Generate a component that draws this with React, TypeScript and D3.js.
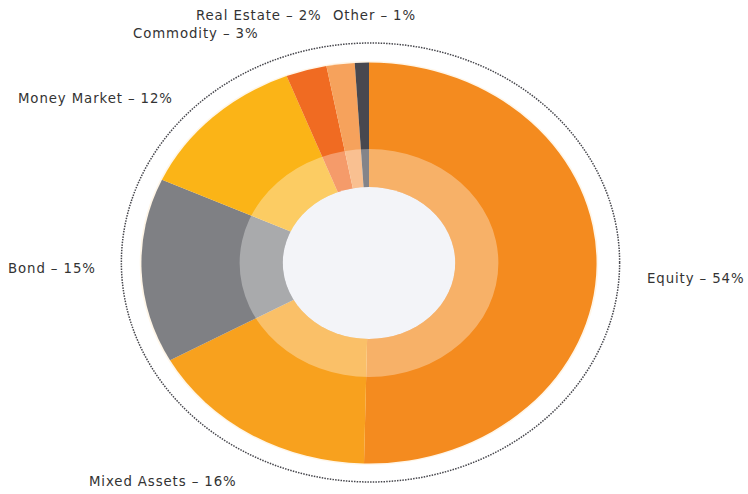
import React from "react";
import * as d3 from "d3";

const categories = ["Equity", "Mixed Assets", "Bond", "Money Market", "Commodity", "Real Estate", "Other"];
// shares as drawn in the picture (angle of each slice)
const sliceShares = [50.4, 16.6, 14.9, 12.3, 2.9, 2.0, 1.0];
// percentages written in the labels
const labelPercents = [54, 16, 15, 12, 3, 2, 1];
const colors = ["#f48b1f", "#f8a11e", "#7f8084", "#fbb417", "#f06b22", "#f6a25c", "#48484f"];

const W = 748;
const H = 494;
const CX = 369;
const CY = 263;
const SX = 1.135; // horizontal stretch of the picture
const R_OUT = 200.5;
const R_RING = 114;
const R_IN = 76;
const R_DOT = 219.5;

// label layout: [x, y, anchor]
const labelLayout: Record<string, [number, number, string]> = {
  Equity: [647, 283, "start"],
  "Mixed Assets": [89, 486, "start"],
  Bond: [8, 273, "start"],
  "Money Market": [18, 103, "start"],
  Commodity: [133, 38, "start"],
  "Real Estate": [196, 20, "start"],
  Other: [333, 20, "start"],
};

export default function App() {
  const data = categories.map((c, i) => ({ name: c, value: sliceShares[i], pct: labelPercents[i], color: colors[i] }));
  const pie = d3.pie<any>().value((d) => d.value).sort(null).startAngle(0).endAngle(2 * Math.PI);
  const arcs = pie(data);
  const arc = d3.arc<any>().innerRadius(0).outerRadius(R_OUT);
  const ring = d3.arc<any>().innerRadius(R_IN).outerRadius(R_RING).startAngle(0).endAngle(2 * Math.PI);

  return (
    <svg width={W} height={H} style={{ position: "absolute", left: 0, top: 0, background: "#fff" }}>
      <ellipse cx={CX + 1.5} cy={CY - 0.5} rx={R_DOT * SX} ry={R_DOT} fill="none" stroke="#46464c" strokeWidth={1.5} strokeDasharray="1.5 1.2" />
      <g transform={`translate(${CX},${CY}) scale(${SX},1)`}>
        <circle r={R_OUT + 1.5} fill="#fff6e8" />
        {arcs.map((a, i) => (
          <path key={i} d={arc(a) as string} fill={a.data.color} />
        ))}
        <path d={ring({}) as string} fill="#ffffff" fillOpacity={0.33} />
        <circle r={R_IN} fill="#f3f4f8" />
      </g>
      {data.map((d) => {
        const [x, y, anchor] = labelLayout[d.name];
        return (
          <text key={d.name} x={x} y={y} textAnchor={anchor as any} fontFamily="DejaVu Sans, sans-serif" fontSize={13.3} fill="#333" letterSpacing={0.9}>
            {`${d.name} – ${d.pct}%`}
          </text>
        );
      })}
    </svg>
  );
}
